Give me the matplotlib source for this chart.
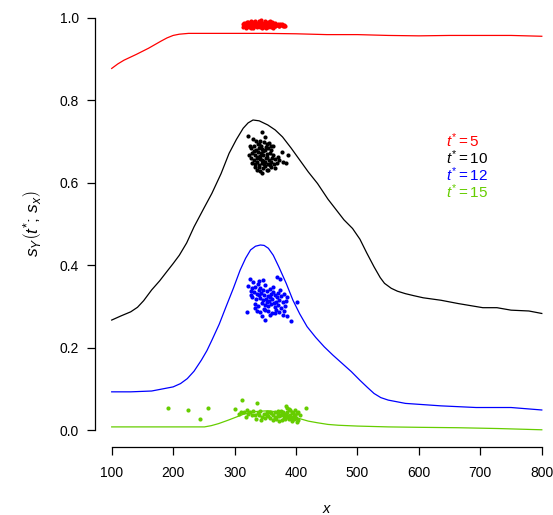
import matplotlib
matplotlib.use("Agg")
import matplotlib.pyplot as plt

plt.rcParams['font.family'] = ['Liberation Sans', 'DejaVu Sans']
plt.rcParams['mathtext.fontset'] = 'custom'
plt.rcParams['mathtext.rm'] = 'Liberation Sans'
plt.rcParams['mathtext.it'] = 'Liberation Sans:italic'
plt.rcParams['mathtext.bf'] = 'Liberation Sans:bold'

# ---- curves ----
red_x = [100, 110, 120, 140, 160, 180, 190, 200, 210, 225, 250, 300, 350, 400, 450, 500, 550, 600, 650, 700, 750, 800]
red_y = [0.877, 0.888, 0.897, 0.911, 0.926, 0.943, 0.951, 0.957, 0.960, 0.962, 0.962, 0.962, 0.962, 0.961, 0.959, 0.959, 0.957, 0.956, 0.957, 0.957, 0.957, 0.955]

black_x = [100, 115, 131, 142, 152, 165, 178, 190, 200, 210, 222, 234, 250, 263, 278, 291, 303, 314, 322, 330, 340, 354, 366, 378, 392, 406, 420, 435, 452, 465, 478, 492, 504, 515, 527, 537, 544, 555, 565, 578, 592, 607, 636, 664, 704, 727, 750, 779, 800]
black_y = [0.267, 0.277, 0.287, 0.298, 0.314, 0.340, 0.362, 0.385, 0.404, 0.424, 0.454, 0.493, 0.538, 0.574, 0.622, 0.671, 0.705, 0.732, 0.745, 0.752, 0.750, 0.740, 0.728, 0.711, 0.684, 0.655, 0.626, 0.598, 0.560, 0.535, 0.510, 0.489, 0.463, 0.430, 0.396, 0.370, 0.356, 0.344, 0.337, 0.331, 0.326, 0.321, 0.315, 0.307, 0.297, 0.297, 0.291, 0.289, 0.283]

blue_x = [100, 131, 165, 200, 212, 223, 234, 246, 255, 263, 275, 286, 298, 309, 318, 326, 334, 342, 348, 355, 363, 372, 384, 395, 406, 418, 432, 446, 460, 475, 490, 504, 516, 527, 538, 550, 578, 636, 693, 750, 800]
blue_y = [0.093, 0.093, 0.095, 0.105, 0.113, 0.125, 0.143, 0.170, 0.193, 0.218, 0.257, 0.299, 0.344, 0.388, 0.417, 0.437, 0.446, 0.449, 0.448, 0.441, 0.424, 0.396, 0.356, 0.315, 0.282, 0.251, 0.225, 0.202, 0.182, 0.162, 0.142, 0.121, 0.104, 0.089, 0.079, 0.073, 0.065, 0.059, 0.055, 0.055, 0.049]

green_x = [100, 200, 251, 262, 274, 289, 303, 315, 326, 340, 355, 366, 378, 392, 406, 420, 435, 452, 469, 500, 550, 600, 664, 730, 800]
green_y = [0.008, 0.008, 0.008, 0.011, 0.016, 0.024, 0.032, 0.039, 0.044, 0.046, 0.047, 0.045, 0.040, 0.034, 0.028, 0.022, 0.018, 0.014, 0.012, 0.010, 0.008, 0.007, 0.006, 0.004, 0.001]

# ---- point clouds ----
red_pts_x = [313, 314, 316, 318, 319, 321, 322, 324, 325, 327, 328, 330, 331, 333, 334, 336, 337, 339, 340, 342, 343, 345, 346, 348, 349, 351, 352, 354, 355, 357, 358, 360, 361, 363, 364, 366, 368, 370, 372, 374, 376, 378, 380, 382, 317, 323, 329, 335, 341, 347, 353, 359, 365, 371, 326, 332, 338, 344, 350, 356, 362, 320, 344, 350, 339,
             315, 319, 323, 327, 331, 335, 339, 343, 347, 351, 355, 359, 363, 367, 373, 377, 381, 329, 337, 345, 353, 361, 333, 341, 349, 357, 318, 326, 334, 342, 358, 366]
red_pts_y = [0.978, 0.984, 0.981, 0.987, 0.976, 0.983, 0.989, 0.979, 0.985, 0.991, 0.982, 0.976, 0.987, 0.980, 0.993, 0.984, 0.977, 0.989, 0.982, 0.986, 0.994, 0.979, 0.988, 0.983, 0.991, 0.976, 0.985, 0.989, 0.980, 0.987, 0.983, 0.978, 0.990, 0.984, 0.981, 0.986, 0.982, 0.985, 0.980, 0.984, 0.982, 0.979, 0.983, 0.981, 0.982, 0.985, 0.980, 0.988, 0.978, 0.985, 0.981, 0.986, 0.979, 0.983, 0.976, 0.990, 0.985, 0.982, 0.987, 0.983, 0.976, 0.990, 0.975, 0.978, 0.992,
             0.986, 0.980, 0.977, 0.984, 0.983, 0.979, 0.985, 0.988, 0.980, 0.983, 0.977, 0.982, 0.987, 0.983, 0.981, 0.985, 0.979, 0.989, 0.981, 0.977, 0.979, 0.984, 0.985, 0.990, 0.978, 0.991, 0.979, 0.981, 0.986, 0.980, 0.988, 0.979]

black_pts_x = [344, 322, 330, 325, 332, 338, 342, 348, 352, 356, 340, 335, 345, 350, 355, 360, 328, 333, 338, 343, 347, 352, 358, 362, 326, 331, 336, 341, 346, 351, 356, 360, 366, 334, 339, 344, 349, 354, 359, 337, 342, 347, 352, 345, 340, 329, 364, 369, 373, 378, 383, 377, 387, 335, 349, 343, 338, 353, 361, 357, 331, 327, 348, 355, 365, 370, 324, 341, 346, 351, 336, 339, 359, 362, 333, 344, 350]
black_pts_y = [0.724, 0.714, 0.705, 0.690, 0.688, 0.695, 0.700, 0.698, 0.693, 0.697, 0.685, 0.680, 0.682, 0.679, 0.684, 0.688, 0.672, 0.668, 0.674, 0.671, 0.666, 0.670, 0.673, 0.667, 0.660, 0.655, 0.661, 0.657, 0.652, 0.659, 0.655, 0.650, 0.657, 0.645, 0.642, 0.648, 0.640, 0.645, 0.638, 0.632, 0.628, 0.635, 0.630, 0.624, 0.637, 0.648, 0.645, 0.648, 0.655, 0.650, 0.648, 0.675, 0.668, 0.700, 0.710, 0.690, 0.662, 0.663, 0.660, 0.642, 0.678, 0.683, 0.645, 0.632, 0.636, 0.662, 0.668, 0.665, 0.676, 0.686, 0.650, 0.693, 0.680, 0.690, 0.637, 0.655, 0.650]

blue_pts_x = [325, 330, 340, 346, 369, 374, 338, 350, 322, 328, 334, 341, 347, 352, 358, 363, 326, 332, 337, 343, 348, 354, 359, 365, 370, 375, 380, 329, 335, 341, 346, 351, 356, 361, 367, 372, 378, 384, 402, 333, 338, 344, 349, 354, 360, 365, 371, 376, 382, 320, 336, 342, 348, 355, 361, 367, 373, 379, 386, 392, 349, 358, 345, 363, 333, 353, 369, 340, 357, 364, 374, 327, 385, 350, 366, 339, 380]
blue_pts_y = [0.366, 0.360, 0.362, 0.365, 0.371, 0.367, 0.355, 0.352, 0.350, 0.345, 0.347, 0.344, 0.341, 0.338, 0.343, 0.336, 0.338, 0.334, 0.330, 0.333, 0.328, 0.325, 0.330, 0.327, 0.332, 0.325, 0.330, 0.322, 0.318, 0.321, 0.316, 0.319, 0.313, 0.317, 0.312, 0.316, 0.310, 0.314, 0.311, 0.306, 0.302, 0.308, 0.304, 0.300, 0.305, 0.299, 0.303, 0.297, 0.301, 0.286, 0.290, 0.286, 0.294, 0.289, 0.283, 0.292, 0.287, 0.280, 0.276, 0.264, 0.268, 0.280, 0.278, 0.348, 0.296, 0.310, 0.322, 0.328, 0.322, 0.308, 0.340, 0.328, 0.322, 0.292, 0.284, 0.340, 0.288]

green_pts_x = [192, 224, 243, 256, 312, 337, 301, 307, 416, 315, 320, 325, 330, 333, 338, 342, 345, 348, 352, 355, 358, 360, 363, 366, 368, 370, 373, 375, 377, 379, 381, 383, 385, 386, 388, 389, 391, 393, 394, 396, 398, 400, 402, 404, 406, 318, 328, 335, 343, 350, 357, 362, 367, 372, 376, 380, 384, 387, 390, 392, 395, 399, 403, 310, 322, 340, 353, 365, 371, 378, 382, 385, 397, 401]
green_pts_y = [0.053, 0.049, 0.028, 0.053, 0.073, 0.065, 0.051, 0.040, 0.053, 0.045, 0.048, 0.043, 0.046, 0.036, 0.042, 0.047, 0.033, 0.040, 0.044, 0.035, 0.030, 0.041, 0.037, 0.044, 0.028, 0.039, 0.034, 0.046, 0.025, 0.041, 0.036, 0.058, 0.031, 0.045, 0.052, 0.027, 0.038, 0.043, 0.022, 0.035, 0.048, 0.030, 0.041, 0.025, 0.037, 0.032, 0.038, 0.028, 0.025, 0.029, 0.045, 0.024, 0.033, 0.022, 0.038, 0.030, 0.040, 0.035, 0.048, 0.030, 0.041, 0.036, 0.044, 0.043, 0.040, 0.036, 0.038, 0.030, 0.047, 0.043, 0.027, 0.055, 0.028, 0.019]

legend_labels = [r'$t^{*}=5$', r'$t^{*}=10$', r'$t^{*}=12$', r'$t^{*}=15$']
RED, BLACK, BLUE, GREEN = '#FF0000', '#000000', '#0000FF', '#66CD00'
colors = [RED, BLACK, BLUE, GREEN]

x_ticks = [100, 200, 300, 400, 500, 600, 700, 800]
y_ticks = [0.0, 0.2, 0.4, 0.6, 0.8, 1.0]

fig = plt.figure(figsize=(5.53, 5.15), dpi=100)
ax = fig.add_axes([94.5 / 553, 1 - 446.7 / 515, (559 - 94.5) / 553, (446.7 - 1.2) / 515])

lw = 0.9
ax.plot(red_x, red_y, color=RED, lw=lw)
ax.plot(black_x, black_y, color=BLACK, lw=lw)
ax.plot(blue_x, blue_y, color=BLUE, lw=lw)
ax.plot(green_x, green_y, color=GREEN, lw=lw)

ms = 9
ax.scatter(red_pts_x, red_pts_y, s=ms, color=RED, linewidths=0)
ax.scatter(black_pts_x, black_pts_y, s=ms, color=BLACK, linewidths=0)
ax.scatter(blue_pts_x, blue_pts_y, s=ms, color=BLUE, linewidths=0)
ax.scatter(green_pts_x, green_pts_y, s=ms, color=GREEN, linewidths=0)

leg_y = [0.703, 0.660, 0.619, 0.578]
for lab, c, yy in zip(legend_labels, colors, leg_y):
    ax.text(644, yy, lab, color=c, fontsize=11, ha='left', va='center')

ax.set_xlim(72, 828)
ax.set_ylim(-0.04, 1.04)
ax.set_xticks(x_ticks)
ax.set_xticklabels([str(v) for v in x_ticks])
ax.set_yticks(y_ticks)
ax.set_yticklabels(['%.1f' % v for v in y_ticks])

for s in ['top', 'right']:
    ax.spines[s].set_visible(False)
ax.spines['left'].set_bounds(0, 1)
ax.spines['bottom'].set_bounds(100, 800)
for s in ['left', 'bottom']:
    ax.spines[s].set_linewidth(0.9)
ax.tick_params(axis='both', direction='out', length=6, width=0.9, labelsize=10)
ax.tick_params(axis='y', pad=5)
ax.tick_params(axis='x', pad=8)

ax.set_xlabel(r'$x$', fontsize=10.5, labelpad=16)
ax.set_ylabel(r'$s_{Y}\left(t^{*};\, s_{x}\right)$', fontsize=12.5, labelpad=12)

fig.savefig('out.png', dpi=100)
